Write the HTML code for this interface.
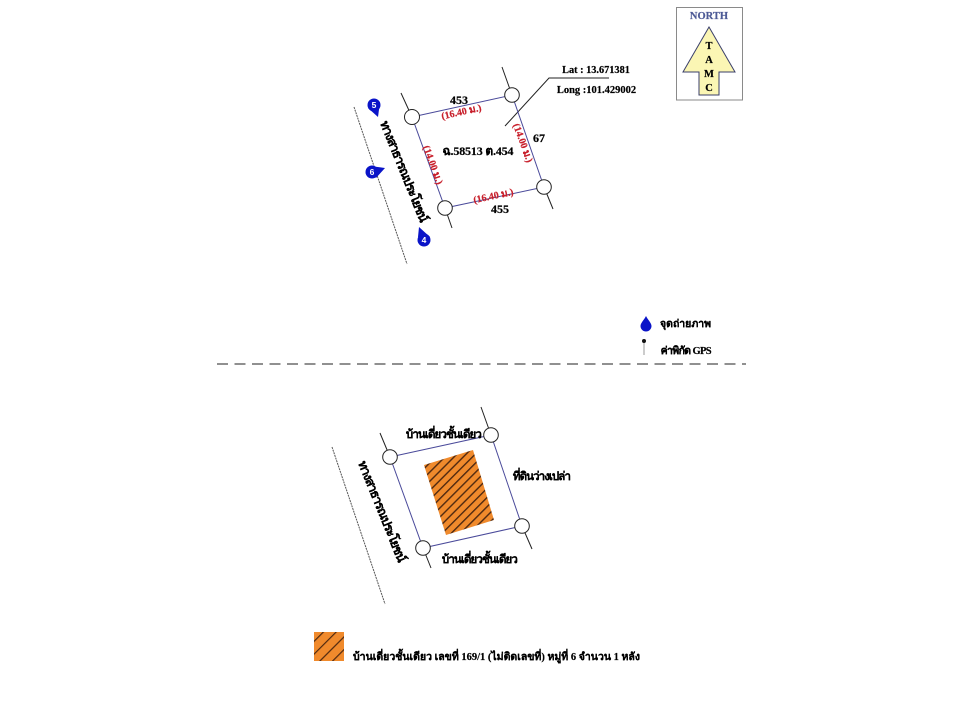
<!DOCTYPE html>
<html><head><meta charset="utf-8"><style>
html,body{margin:0;padding:0;background:#fff;width:960px;height:720px;overflow:hidden}
svg{display:block;filter:blur(.35px)}
text{font-family:"Liberation Serif","Noto Serif CJK SC",serif;font-weight:bold;fill:#000;stroke:#000;stroke-width:.2px}
.r{fill:#c8202c;stroke:#c8202c;font-size:10px}
.n{font-size:12px;text-anchor:middle}
.p{fill:#fff;stroke:none;font-family:"Liberation Sans",sans-serif;font-size:8.500px;text-anchor:middle}
</style></head><body>
<svg width="960" height="720" viewBox="0 0 960 720" xmlns="http://www.w3.org/2000/svg">
<defs>
<pattern id="h" width="6.500" height="6.500" patternUnits="userSpaceOnUse" patternTransform="rotate(-45)">
<rect width="6.500" height="6.500" fill="#f08a2c"/><rect width="6.500" height="1.400" fill="#4e2810"/>
</pattern>
<pattern id="h2" width="9" height="9" patternUnits="userSpaceOnUse" patternTransform="rotate(-45)">
<rect width="9" height="9" fill="#f08a2c"/><rect width="9" height="1.200" fill="#4e2810"/>
</pattern>
</defs>

<!-- North box -->
<rect x="676.500" y="7.500" width="66" height="92.500" fill="#fff" stroke="#8a8a8a"/>
<path d="M709 27L735 72H719V95H699V72H683Z" fill="#fbf6b4" stroke="#3a3f6a" stroke-width="1"/>
<text x="709" y="19" text-anchor="middle" style="font-size:10.500px;fill:#4d5a96;stroke:#4d5a96">NORTH</text>
<text x="709" y="49" text-anchor="middle" style="font-size:10.500px">T</text>
<text x="709" y="63" text-anchor="middle" style="font-size:10.500px">A</text>
<text x="709" y="77" text-anchor="middle" style="font-size:10.500px">M</text>
<text x="709" y="91" text-anchor="middle" style="font-size:10.500px">C</text>

<!-- Top plot -->
<g stroke="#222" stroke-width="1" fill="none">
<path d="M401 93L412 117M502 67L512 95M544 187L553 209M445 208L452 228"/>
<path d="M609 78H549L505 126"/>
</g>
<path d="M354 107L407 264" stroke="#555" stroke-width="1" stroke-dasharray="2 .8" fill="none"/>
<path d="M412 117L512 95L544 187L445 208Z" fill="none" stroke="#4a4a9a" stroke-width="1"/>
<g fill="#fff" stroke="#222" stroke-width="1">
<circle cx="412" cy="117" r="7.500"/><circle cx="512" cy="95" r="7.300"/>
<circle cx="544" cy="187" r="7.300"/><circle cx="445" cy="208" r="7.300"/>
</g>
<text class="n" x="459" y="104">453</text>
<text class="n" x="500" y="213">455</text>
<text class="n" x="539" y="142">67</text>
<text class="n" x="478" y="155" textLength="71">ฉ.58513 ต.454</text>
<text x="596" y="73" text-anchor="middle" style="font-size:10.300px">Lat : 13.671381</text>
<text x="596.500" y="93" text-anchor="middle" style="font-size:10.500px">Long :101.429002</text>
<text class="r" text-anchor="middle" transform="translate(462,115) rotate(-12.500)">(16.40 ม.)</text>
<text class="r" text-anchor="middle" transform="translate(494,199) rotate(-12)">(16.40 ม.)</text>
<text class="r" text-anchor="middle" transform="translate(430,166) rotate(70)">(14.00 ม.)</text>
<text class="r" text-anchor="middle" transform="translate(520,144) rotate(70)">(14.00 ม.)</text>
<text transform="translate(380,123) rotate(68)" textLength="108" style="font-size:12.500px">ทางสาธารณประโยชน์</text>

<!-- photo markers -->
<g fill="#0a14c8">
<circle cx="374" cy="105" r="6.500"/><path d="M368 108L380 102L378 117Z"/>
<circle cx="372" cy="172" r="6.500"/><path d="M370 166L385 168L376 178Z"/>
<circle cx="424" cy="240" r="6.500"/><path d="M418 237L419 227L430 237Z"/>
</g>
<text class="p" x="374" y="108">5</text>
<text class="p" x="372" y="175">6</text>
<text class="p" x="424" y="243">4</text>

<!-- Legend top -->
<path d="M646 316C648 320 651.500 323 651.500 326A5.500 5.500 0 0 1 640.500 326C640.500 323 644 320 646 316Z" fill="#0a14c8"/>
<text x="660" y="327" textLength="51" style="font-size:10.500px">จุดถ่ายภาพ</text>
<line x1="644" y1="341" x2="644" y2="355" stroke="#999"/>
<circle cx="644" cy="341" r="2" fill="#111"/>
<text x="660" y="354" textLength="51" style="font-size:10.500px">ค่าพิกัด GPS</text>

<!-- Divider -->
<line x1="217" y1="364" x2="746" y2="364" stroke="#222" stroke-width="1" stroke-dasharray="11 6.500"/>

<!-- Bottom plot -->
<g stroke="#222" stroke-width="1" fill="none">
<path d="M380 433L390 457M481 407L491 435M522 526L532 549M423 548L431 568"/>
</g>
<path d="M332 447L385 604" stroke="#555" stroke-width="1" stroke-dasharray="2 .8" fill="none"/>
<path d="M390 457L491 435L522 526L423 548Z" fill="none" stroke="#4a4a9a" stroke-width="1"/>
<path d="M424 465L473 450L494 520L446 535Z" fill="url(#h)"/>
<g fill="#fff" stroke="#222" stroke-width="1">
<circle cx="390" cy="457" r="7.300"/><circle cx="491" cy="435" r="7.300"/>
<circle cx="522" cy="526" r="7.300"/><circle cx="423" cy="548" r="7.300"/>
</g>
<text x="405" y="438" textLength="76" style="font-size:11.500px">บ้านเดี่ยวชั้นเดียว</text>
<text x="441" y="563" textLength="76" style="font-size:11.500px">บ้านเดี่ยวชั้นเดียว</text>
<text x="512" y="480" textLength="58" style="font-size:11.500px">ที่ดินว่างเปล่า</text>
<text transform="translate(358,463) rotate(68)" textLength="108" style="font-size:12.500px">ทางสาธารณประโยชน์</text>

<!-- Bottom legend -->
<rect x="314" y="632" width="30" height="29" fill="url(#h2)"/>
<text x="353" y="660" textLength="287" style="font-size:10.500px">บ้านเดี่ยวชั้นเดียว  เลขที่ 169/1  (ไม่ติดเลขที่) หมู่ที่ 6 จำนวน 1 หลัง</text>
</svg>
</body></html>
